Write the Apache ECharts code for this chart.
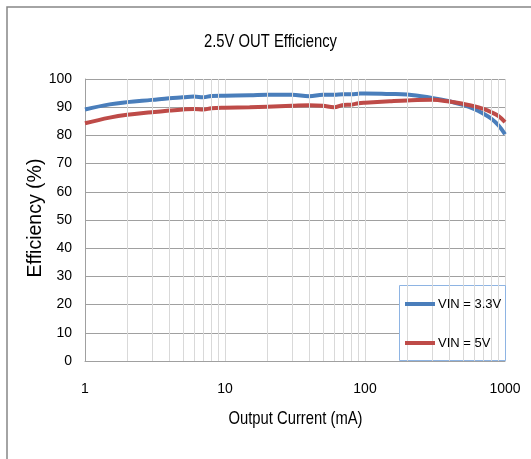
<!DOCTYPE html>
<html>
<head>
<meta charset="utf-8">
<script src="https://cdn.jsdelivr.net/npm/echarts@6/dist/echarts.min.js"></script>
<style>
  html, body { margin: 0; padding: 0; background: #fff; }
  #chart { width: 531px; height: 459px; }
</style>
</head>
<body>
<div id="chart"></div>
<script>
// Output current sweep (mA), shared by both curves
const currents = [1, 1.5, 2, 3, 4, 5, 6, 7, 8, 10, 15, 20, 30, 40, 50, 60, 70, 80, 90,
  100, 150, 200, 300, 400, 500, 600, 700, 800, 900, 1000];

// Efficiency (%) at VIN = 3.3V
const eff33 = [89.2, 91.0, 91.8, 92.6, 93.2, 93.5, 93.8, 93.5, 94.0, 94.1, 94.2, 94.4, 94.4,
  93.9, 94.4, 94.4, 94.6, 94.6, 94.8, 94.9, 94.7, 94.5, 93.3, 92.1, 90.8, 89.4, 87.7, 85.9,
  83.5, 80.4];

// Efficiency (%) at VIN = 5V
const eff5 = [84.3, 86.3, 87.3, 88.2, 88.8, 89.2, 89.4, 89.2, 89.6, 89.8, 90.0, 90.2, 90.5,
  90.7, 90.5, 90.0, 90.8, 90.9, 91.4, 91.6, 92.1, 92.4, 92.6, 92.0, 91.2, 90.4, 89.4, 88.2,
  86.8, 84.7];

const seriesNames = ['VIN = 3.3V', 'VIN = 5V'];
const xTickLabels = ['1', '10', '100', '1000'];
// Minor log-scale grid positions between decades
const minorGrid = [2, 3, 4, 5, 6, 7, 8, 9, 20, 30, 40, 50, 60, 70, 80, 90,
  200, 300, 400, 500, 600, 700, 800, 900];

const chartTitle = '2.5V OUT Efficiency';
const xAxisTitle = 'Output Current (mA)';
const yAxisTitle = 'Efficiency (%)';

const FONT = "'Liberation Sans', Arial, sans-serif";

const chart = echarts.init(document.getElementById('chart'), null, { renderer: 'canvas' });

const pairs = (ys) => currents.map((x, i) => [x, ys[i]]);

// Condensed-looking caption text (horizontally squeezed)
const caption = (text, x, y, size, opts = {}) => ({
  type: 'text',
  x, y,
  z: 10,
  scaleX: opts.scaleX ?? 0.8,
  rotation: opts.rotation ?? 0,
  style: {
    text,
    x: 0, y: 0,
    fill: '#000',
    font: `${size}px ${FONT}`,
    textAlign: 'center',
    textVerticalAlign: 'middle'
  }
});

chart.setOption({
  animation: false,
  backgroundColor: '#ffffff',
  graphic: [
    {
      type: 'rect',
      z: -10,
      shape: { x: 7, y: 7, width: 700, height: 700 },
      style: { fill: 'none', stroke: '#868686', lineWidth: 1.5 }
    },
    {
      type: 'rect',
      z: 4,
      shape: { x: 399.5, y: 285.5, width: 106, height: 75 },
      style: { fill: '#ffffff', stroke: '#8eb4e3', lineWidth: 1 }
    },
    caption(chartTitle, 270.5, 42, 18.5),
    caption(xAxisTitle, 295.5, 419, 18.5),
    caption(yAxisTitle, 35.5, 218, 19.5, { scaleX: 1, rotation: Math.PI / 2 })
  ],
  legend: {
    data: seriesNames,
    orient: 'vertical',
    left: 405,
    top: 296,
    itemWidth: 30,
    itemHeight: 4,
    itemGap: 23,
    icon: 'rect',
    padding: 0,
    z: 6,
    textStyle: { fontFamily: FONT, fontSize: 13, color: '#000', padding: [0, 0, 0, -2], lineHeight: 16 }
  },
  grid: { left: 85, right: 26, top: 79, bottom: 98, containLabel: false },
  xAxis: {
    type: 'log',
    logBase: 10,
    min: 1,
    max: 1000,
    axisLine: { show: true, lineStyle: { color: '#a0a0a0', width: 1 } },
    axisTick: { show: false },
    axisLabel: {
      margin: 21,
      fontFamily: FONT,
      fontSize: 14,
      color: '#000',
      formatter: (v) => xTickLabels.find((t) => Number(t) === Math.round(v)) || ''
    },
    splitLine: { show: true, lineStyle: { color: '#d9d9d9', width: 1 } }
  },
  yAxis: {
    type: 'value',
    min: 0,
    max: 100,
    interval: 10,
    axisLine: { show: true, lineStyle: { color: '#a0a0a0', width: 1 } },
    axisTick: { show: false },
    axisLabel: { margin: 13, fontFamily: FONT, fontSize: 14, color: '#000' },
    splitLine: { show: true, lineStyle: { color: '#a0a0a0', width: 1 } }
  },
  series: [
    {
      name: 'minor-grid',
      type: 'line',
      data: [],
      z: 1,
      silent: true,
      markLine: {
        silent: true,
        symbol: 'none',
        label: { show: false },
        lineStyle: { color: '#d9d9d9', width: 1, type: 'solid' },
        data: minorGrid.map((v) => ({ xAxis: v }))
      }
    },
    {
      name: seriesNames[0],
      type: 'line',
      data: pairs(eff33),
      smooth: 0.4,
      showSymbol: false,
      z: 3,
      color: '#4a7ebb',
      lineStyle: { color: '#4a7ebb', width: 4 }
    },
    {
      name: seriesNames[1],
      type: 'line',
      data: pairs(eff5),
      smooth: 0.4,
      showSymbol: false,
      z: 3,
      color: '#be4b48',
      lineStyle: { color: '#be4b48', width: 4 }
    }
  ]
});
</script>
</body>
</html>
